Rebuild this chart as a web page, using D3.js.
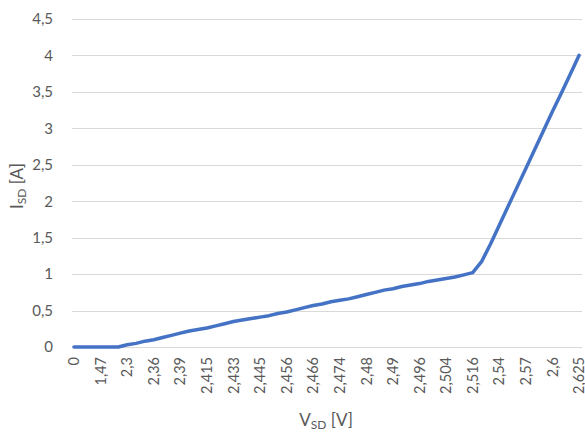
<!DOCTYPE html>
<html>
<head>
<meta charset="utf-8">
<script src="https://cdn.jsdelivr.net/npm/d3@7"></script>
<style>
  html, body { margin: 0; padding: 0; background: #fff; }
  svg { display: block; }
  text { font-family: Lato, "Open Sans", sans-serif; fill: #595959; }
</style>
</head>
<body>
<svg id="chart" width="585" height="432"></svg>
<script>
// Source-drain voltage V_SD (V), one entry per measurement
const voltages = [
  0, 0.5, 1, 1.47, 1.8, 2.1, 2.3, 2.32, 2.34, 2.36,
  2.37, 2.38, 2.39, 2.4, 2.41, 2.415, 2.42, 2.427, 2.433, 2.437,
  2.441, 2.445, 2.449, 2.452, 2.456, 2.46, 2.463, 2.466, 2.469, 2.471,
  2.474, 2.476, 2.478, 2.48, 2.484, 2.487, 2.49, 2.492, 2.494, 2.496,
  2.499, 2.501, 2.504, 2.508, 2.512, 2.516, 2.52, 2.53, 2.54, 2.55,
  2.56, 2.57, 2.58, 2.59, 2.6, 2.61, 2.615, 2.625
];

// Source-drain current I_SD (A)
const currents = [
  0, 0, 0, 0, 0, 0, 0.03, 0.05, 0.08, 0.10,
  0.13, 0.16, 0.19, 0.22, 0.24, 0.26, 0.29, 0.32, 0.35, 0.37,
  0.39, 0.41, 0.43, 0.46, 0.48, 0.51, 0.54, 0.57, 0.59, 0.62,
  0.64, 0.66, 0.69, 0.72, 0.75, 0.78, 0.80, 0.83, 0.85, 0.87,
  0.90, 0.92, 0.94, 0.96, 0.99, 1.02, 1.17, 1.41, 1.67, 1.93,
  2.19, 2.45, 2.71, 2.97, 3.23, 3.48, 3.74, 4.00
];

// Every third category carries a label on the axis
const labelEvery = 3;
const yTicks = [0, 0.5, 1, 1.5, 2, 2.5, 3, 3.5, 4, 4.5];

const locale = d3.formatLocale({ decimal: ",", thousands: ".", grouping: [3], currency: ["", " €"] });
const fmtY = locale.format(".1~f");
const fmtX = locale.format(".4~g");

const svg = d3.select("#chart");
const plot = { left: 72, right: 582, top: 19, bottom: 347 };

const x = d3.scalePoint()
  .domain(d3.range(voltages.length))
  .range([74, 579])
  .padding(0);

const y = d3.scaleLinear()
  .domain([0, 4.5])
  .range([plot.bottom, plot.top]);

// Horizontal gridlines
svg.append("g")
  .selectAll("line")
  .data(yTicks)
  .join("line")
  .attr("x1", plot.left)
  .attr("x2", plot.right)
  .attr("y1", d => Math.round(y(d)) + 0.5)
  .attr("y2", d => Math.round(y(d)) + 0.5)
  .attr("stroke", "#d9d9d9")
  .attr("stroke-width", 1);

// Y axis labels
const yAxis = d3.axisLeft(y).tickValues(yTicks).tickFormat(fmtY).tickSize(0).tickPadding(0);
svg.append("g")
  .attr("transform", `translate(53,0)`)
  .call(yAxis)
  .call(g => g.select(".domain").remove())
  .selectAll("text")
  .attr("font-size", 15)
  .attr("fill", "#595959")
  .attr("font-family", "Lato, 'Open Sans', sans-serif");

// X axis labels (rotated)
const xAxis = d3.axisBottom(x)
  .tickValues(d3.range(0, voltages.length, labelEvery))
  .tickFormat(i => fmtX(voltages[i]))
  .tickSize(0)
  .tickPadding(0);
svg.append("g")
  .attr("transform", `translate(0,${plot.bottom})`)
  .call(xAxis)
  .call(g => g.select(".domain").remove())
  .selectAll("text")
  .attr("font-size", 14.5)
  .attr("fill", "#595959")
  .attr("font-family", "Lato, 'Open Sans', sans-serif")
  .attr("text-anchor", "end")
  .attr("transform", "rotate(-90)")
  .attr("x", -10)
  .attr("y", 0)
  .attr("dy", "0.32em");

// Data line
const line = d3.line()
  .x((d, i) => x(i))
  .y(d => y(d));

svg.append("path")
  .datum(currents)
  .attr("d", line)
  .attr("fill", "none")
  .attr("stroke", "#4472c4")
  .attr("stroke-width", 3.5)
  .attr("stroke-linejoin", "round")
  .attr("stroke-linecap", "round");

// Axis titles
const xt = svg.append("text")
  .attr("x", 326)
  .attr("y", 426)
  .attr("text-anchor", "middle")
  .attr("font-size", 17);
xt.append("tspan").text("V");
xt.append("tspan").attr("font-size", 12).attr("dy", 3).text("SD");
xt.append("tspan").attr("dy", -3).text(" [V]");

const yt = svg.append("text")
  .attr("transform", "translate(23,186) rotate(-90)")
  .attr("text-anchor", "middle")
  .attr("font-size", 17);
yt.append("tspan").text("I");
yt.append("tspan").attr("font-size", 12).attr("dy", 3).text("SD");
yt.append("tspan").attr("dy", -3).text(" [A]");
</script>
</body>
</html>
